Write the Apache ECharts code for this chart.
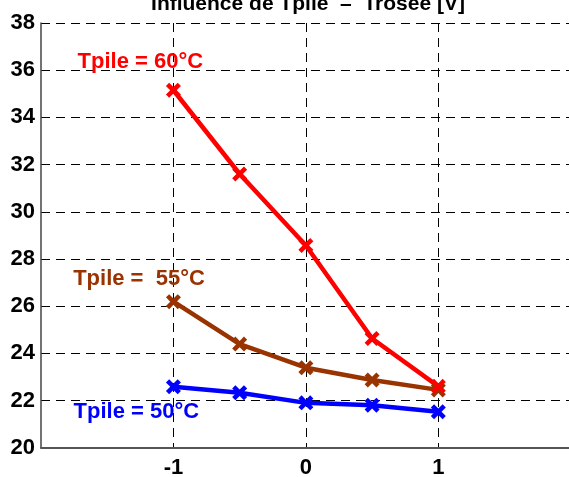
<!DOCTYPE html>
<html>
<head>
<meta charset="utf-8">
<script src="https://cdn.jsdelivr.net/npm/echarts@6/dist/echarts.min.js"></script>
<style>html,body{margin:0;padding:0;background:#fff;}#c{width:569px;height:477px;}</style>
</head>
<body>
<div id="c"></div>
<script>
var xValues = [-1, -0.5, 0, 0.5, 1];
var t60 = [35.15, 31.6, 28.57, 24.63, 22.6];
var t55 = [26.19, 24.39, 23.39, 22.87, 22.45];
var t50 = [22.58, 22.33, 21.9, 21.8, 21.52];
var xTicks = [-1, 0, 1];
var seriesNames = ['Tpile = 60°C', 'Tpile =  55°C', 'Tpile = 50°C'];
var labelPos = [[-1.25, 36.35], [-1.26, 27.17], [-1.28, 21.53]];
var colors = ['#ff0000', '#993300', '#0000ff'];

var FONT = '"Liberation Sans", Arial, sans-serif';
var crossPath = 'path://M3,0 L7,4 L11,0 L14,3 L10,7 L14,11 L11,14 L7,10 L3,14 L0,11 L4,7 L0,3 Z';

function pairs(ys) { return xValues.map(function (x, i) { return [x, ys[i]]; }); }

function mkSeries(name, ys, color, pos) {
  return {
    name: name,
    type: 'line',
    data: pairs(ys),
    symbol: crossPath,
    symbolSize: 15,
    showAllSymbol: true,
    lineStyle: { color: color, width: 4.5 },
    itemStyle: { color: color },
    emphasis: { disabled: true },
    markPoint: {
      symbol: 'rect',
      symbolSize: 1,
      itemStyle: { color: 'transparent' },
      label: {
        show: true, position: 'inside', formatter: name,
        color: color, fontFamily: FONT, fontWeight: 'bold', fontSize: 22
      },
      data: [{ coord: pos }]
    },
    z: 3
  };
}

var chart = echarts.init(document.getElementById('c'), null, { renderer: 'canvas' });
chart.setOption({
  animation: false,
  backgroundColor: '#ffffff',
  title: {
    text: 'Influence de Tpile  –  Trosée [V]',
    left: 303, top: -11, textAlign: 'center',
    textStyle: { fontFamily: FONT, fontWeight: 'bold', fontSize: 21, color: '#000' }
  },
  grid: { left: 41, top: 23, width: 596, height: 424.7, containLabel: false, outerBoundsMode: 'none' },
  xAxis: {
    type: 'value', min: -2, max: 2.5, interval: 1,
    axisLine: { show: true, onZero: false, lineStyle: { color: '#555', width: 2 } },
    axisTick: { show: false, customValues: xTicks },
    axisLabel: {
      customValues: xTicks, margin: 9,
      fontFamily: FONT, fontWeight: 'bold', fontSize: 22, color: '#000'
    },
    splitLine: { show: true, lineStyle: { color: '#000', type: [9, 6], width: 1 } }
  },
  yAxis: {
    type: 'value', min: 20, max: 38, interval: 2,
    axisLine: { show: true, onZero: false, lineStyle: { color: '#444', width: 1.5 } },
    axisTick: { show: false },
    axisLabel: { margin: 6, fontFamily: FONT, fontWeight: 'bold', fontSize: 22, color: '#000' },
    splitLine: { show: true, lineStyle: { color: '#000', type: [9, 6], width: 1 } }
  },
  series: [
    mkSeries(seriesNames[2], t50, colors[2], labelPos[2]),
    mkSeries(seriesNames[1], t55, colors[1], labelPos[1]),
    mkSeries(seriesNames[0], t60, colors[0], labelPos[0])
  ]
});
</script>
</body>
</html>
